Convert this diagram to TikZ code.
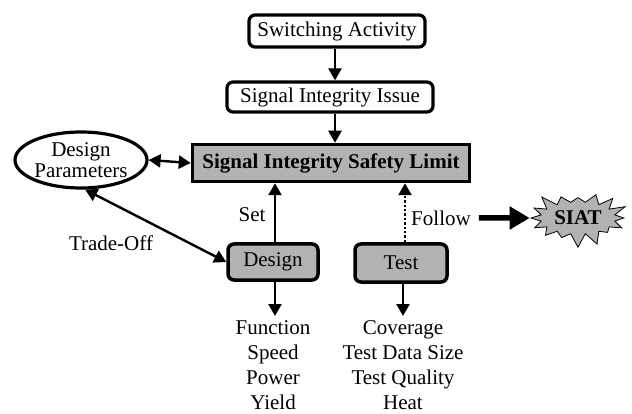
\documentclass[tikz,border=0pt]{standalone}
\usepackage{fontspec}
\setmainfont{Liberation Serif}
\usetikzlibrary{arrows.meta,shapes.geometric,shapes.symbols}
\tikzset{
  txt/.style={font=\fontsize{21}{25}\selectfont},
  wbox/.style={txt,draw,line width=3.2pt,rounded corners=6pt,inner sep=2pt},
  gbox/.style={txt,draw,line width=3.5pt,rounded corners=6pt,fill=gray!60,inner sep=2pt},
  arr/.style={line width=2.4pt,-{Triangle[length=12pt,width=13pt]}},
  darr/.style={line width=2.4pt,{Triangle[length=12pt,width=13pt]}-{Triangle[length=12pt,width=13pt]}},
}
\begin{document}
\begin{tikzpicture}[x=1pt,y=-1pt]
\useasboundingbox (0,0) rectangle (632,414);
\node[wbox,minimum width=176pt,minimum height=32pt] (sa) at (337,31) {Switching Activity};
\node[wbox,minimum width=206pt,minimum height=30pt] (sii) at (330,97) {Signal Integrity Issue};
\node[txt,draw,line width=3.5pt,fill=gray!60,minimum width=277pt,minimum height=37pt,font=\fontsize{21}{25}\selectfont\bfseries] (sisl) at (331,163) {Signal Integrity Safety Limit};
\node[txt,ellipse,draw,line width=3.2pt,minimum width=132pt,minimum height=56pt,align=center,inner sep=0pt] (dp) at (81,160) {Design\\[-4pt]Parameters};
\node[gbox,minimum width=90pt,minimum height=36pt] (design) at (273,262) {Design};
\node[gbox,minimum width=92pt,minimum height=38pt] (test) at (401,263) {Test};
\node[txt,starburst,draw,line width=0.8pt,fill=gray!60,starburst points=16,starburst point height=14pt,random starburst=3,minimum width=103pt,minimum height=60pt,font=\fontsize{21}{25}\selectfont\bfseries,inner sep=1pt] (siat) at (578,218) {SIAT};
\node[txt,align=center,anchor=north,inner sep=4pt] (dl) at (273,316) {Function\\Speed\\Power\\Yield};
\node[txt,align=center,anchor=north,inner sep=4pt] (tl) at (403,316) {Coverage\\Test Data Size\\Test Quality\\Heat};
\node[txt,inner sep=2pt] (set) at (252,215) {Set};
\node[txt,inner sep=2pt] (follow) at (441,218) {Follow};
\node[txt,inner sep=2pt] (to) at (111,243) {Trade-Off};

\draw[arr] (sa.south -| 335,0) -- (sii.north -| 335,0);
\draw[arr] (sii.south -| 335,0) -- (sisl.north -| 335,0);
\draw[darr] (dp.east) -- (sisl.west);
\draw[arr] (design.north -| 275,0) -- (sisl.south -| 275,0);
\draw[line width=2.4pt,dotted,-{Triangle[length=12pt,width=13pt]}] (test.north -| 405,0) -- (sisl.south -| 405,0);
\draw[darr] (dp.-82) -- (design.west);
\draw[arr] (design.south -| 275,0) -- (dl.north -| 275,0);
\draw[arr] (test.south -| 403,0) -- (tl.north -| 403,0);
\draw[line width=5.5pt,-{Triangle[length=20pt,width=22pt]}] ([xshift=6pt]follow.east) -- (siat.west);
\end{tikzpicture}
\end{document}
